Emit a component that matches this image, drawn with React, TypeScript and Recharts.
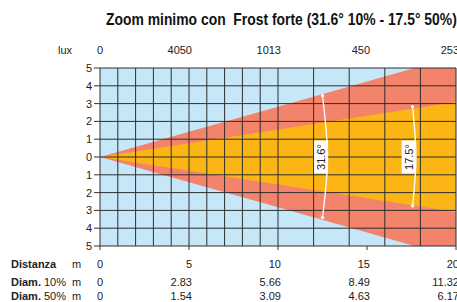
import React from 'react';
import { ComposedChart, Area, Line, XAxis, YAxis, CartesianGrid, ReferenceDot } from 'recharts';

const distances = [0, 5, 10, 15, 20];
const diam10 = [0, 2.83, 5.66, 8.49, 11.32];
const diam50 = [0, 1.54, 3.09, 4.63, 6.17];
const luxLabels = ['0', '4050', '1013', '450', '253'];
const yTicks = [-5, -4, -3, -2, -1, 0, 1, 2, 3, 4, 5];
const gridMeters = [0, 1, 2, 3, 4, 5, 6, 7, 8, 9, 10, 11, 12, 13, 14, 15, 16, 17, 18, 19, 20];
const beamLabels = ['31.6°', '17.5°'];
const beamLabelDist = [12.42, 17.34];
const arc10 = [
  { d: 12.5, y: 3.45 },
  { d: 12.78, y: 0 },
  { d: 12.5, y: -3.4 },
];
const arc50 = [
  { d: 17.56, y: 2.83 },
  { d: 17.75, y: 0 },
  { d: 17.56, y: -2.75 },
];
const rowNames = ['Distanza', 'Diam.', 'Diam.'];
const rowSuffix = ['', '10%', '50%'];
const rowValues = [distances.map(String), diam10.map((v) => (v === 0 ? '0' : v.toFixed(2))), diam50.map((v) => (v === 0 ? '0' : v.toFixed(2)))];

const data = distances.map((d, i) => ({
  d,
  outer: [-diam10[i] / 2, diam10[i] / 2],
  inner: [-diam50[i] / 2, diam50[i] / 2],
}));

const FONT = '"Liberation Sans", Arial, Helvetica, sans-serif';
const TXT = '#222';

const TopTick = (props: any) => {
  const { x, y, index } = props;
  const by = y - 14;
  return (
    <g>
      {index === 0 && (
        <text x={x - 42} y={by} textAnchor="start" fontSize={11} fontFamily={FONT} fill={TXT}>
          lux
        </text>
      )}
      <text x={x + 3} y={by} textAnchor="end" fontSize={11} fontFamily={FONT} fill={TXT}>
        {luxLabels[index]}
      </text>
    </g>
  );
};

const BottomTick = (props: any) => {
  const { x, y, index } = props;
  const baselines = [y + 18, y + 36, y + 49.5];
  return (
    <g>
      {index === 0 &&
        rowNames.map((n, r) => (
          <g key={'l' + r}>
            <text x={11} y={baselines[r]} fontSize={11} fontFamily={FONT} fill={TXT}>
              <tspan fontWeight="bold">{n}</tspan>
              {rowSuffix[r] ? <tspan dx={3}>{rowSuffix[r]}</tspan> : null}
            </text>
            <text x={72} y={baselines[r]} fontSize={11} fontFamily={FONT} fill={TXT}>
              m
            </text>
          </g>
        ))}
      {rowValues.map((vals, r) => (
        <text key={r} x={x + 3} y={baselines[r]} textAnchor="end" fontSize={11} fontFamily={FONT} fill={TXT}>
          {vals[index]}
        </text>
      ))}
    </g>
  );
};

const arcDot = (props: any) => {
  const { cx, cy, index } = props;
  if (index === 1) return <g key={'dot' + index} />;
  return <circle key={'dot' + index} cx={cx} cy={cy} r={1.6} fill="#fff" />;
};

const beamLabelShape = (text: string) => (props: any) => {
  const { cx, cy } = props;
  return (
    <g>
      <rect x={cx - 7} y={cy - 16.5} width={14} height={33} fill="#fff" />
      <text
        x={cx}
        y={cy}
        transform={`rotate(-90 ${cx} ${cy})`}
        textAnchor="middle"
        dominantBaseline="central"
        fontSize={11}
        fontFamily={FONT}
        fill={TXT}
      >
        {text}
      </text>
    </g>
  );
};

export default function App() {
  return (
    <div style={{ position: 'absolute', left: 0, top: 0, width: 457, height: 302, background: '#fff' }}>
      <svg width={457} height={40} style={{ position: 'absolute', left: 0, top: 0 }}>
        <text
          transform="translate(106 25) scale(1 1.2)"
          x={0}
          y={0}
          fontSize={13.9}
          fontWeight="bold"
          fontFamily={FONT}
          fill="#111"
        >
          {'Zoom minimo con\u00a0 Frost forte (31.6° 10% - 17.5° 50%)'}
        </text>
      </svg>
      <div style={{ position: 'absolute', left: 0, top: 0 }}>
        <ComposedChart width={457} height={302} data={data} margin={{ top: 0, right: 1, bottom: 0, left: 70 }}>
          <XAxis
            xAxisId="grid"
            dataKey="d"
            type="number"
            domain={[0, 20]}
            ticks={gridMeters}
            hide
          />
          <XAxis
            xAxisId="top"
            orientation="top"
            dataKey="d"
            type="number"
            domain={[0, 20]}
            ticks={distances}
            height={68}
            axisLine={false}
            tickLine={false}
            tickSize={0}
            tickMargin={0}
            tick={<TopTick />}
            interval={0}
          />
          <XAxis
            dataKey="d"
            type="number"
            domain={[0, 20]}
            ticks={distances}
            height={56}
            axisLine={false}
            tickLine={{ stroke: '#333' }}
            tickSize={4}
            tickMargin={0}
            tick={<BottomTick />}
            interval={0}
          />
          <YAxis
            type="number"
            domain={[-5, 5]}
            ticks={yTicks}
            allowDataOverflow
            width={30}
            axisLine={false}
            tickLine={{ stroke: '#333' }}
            tickSize={6}
            tickMargin={2}
            interval={0}
            tickFormatter={(v: number) => String(Math.abs(v))}
            tick={{ fontSize: 11, fontFamily: FONT, fill: TXT }}
          />
          <CartesianGrid xAxisId="grid" fill="#c6e7f8" horizontal={false} vertical={false} />
          <Area
            xAxisId="grid"
            dataKey="outer"
            type="linear"
            stroke="none"
            fill="#f3836b"
            fillOpacity={1}
            isAnimationActive={false}
            dot={false}
            activeDot={false}
          />
          <Area
            xAxisId="grid"
            dataKey="inner"
            type="linear"
            stroke="none"
            fill="#fbb515"
            fillOpacity={1}
            isAnimationActive={false}
            dot={false}
            activeDot={false}
          />
          <CartesianGrid xAxisId="grid" stroke="#2e2e2e" strokeWidth={1} fill="none" zIndex={150} />
          <Line
            xAxisId="grid"
            data={arc10}
            dataKey="y"
            type="natural"
            stroke="#fff"
            strokeWidth={1.3}
            dot={arcDot}
            activeDot={false}
            isAnimationActive={false}
          />
          <Line
            xAxisId="grid"
            data={arc50}
            dataKey="y"
            type="natural"
            stroke="#fff"
            strokeWidth={1.3}
            dot={arcDot}
            activeDot={false}
            isAnimationActive={false}
          />
          {beamLabels.map((t, i) => (
            <ReferenceDot
              key={t}
              xAxisId="grid"
              x={beamLabelDist[i]}
              y={0}
              r={0}
              shape={beamLabelShape(t)}
              zIndex={2000}
            />
          ))}
        </ComposedChart>
      </div>
    </div>
  );
}
